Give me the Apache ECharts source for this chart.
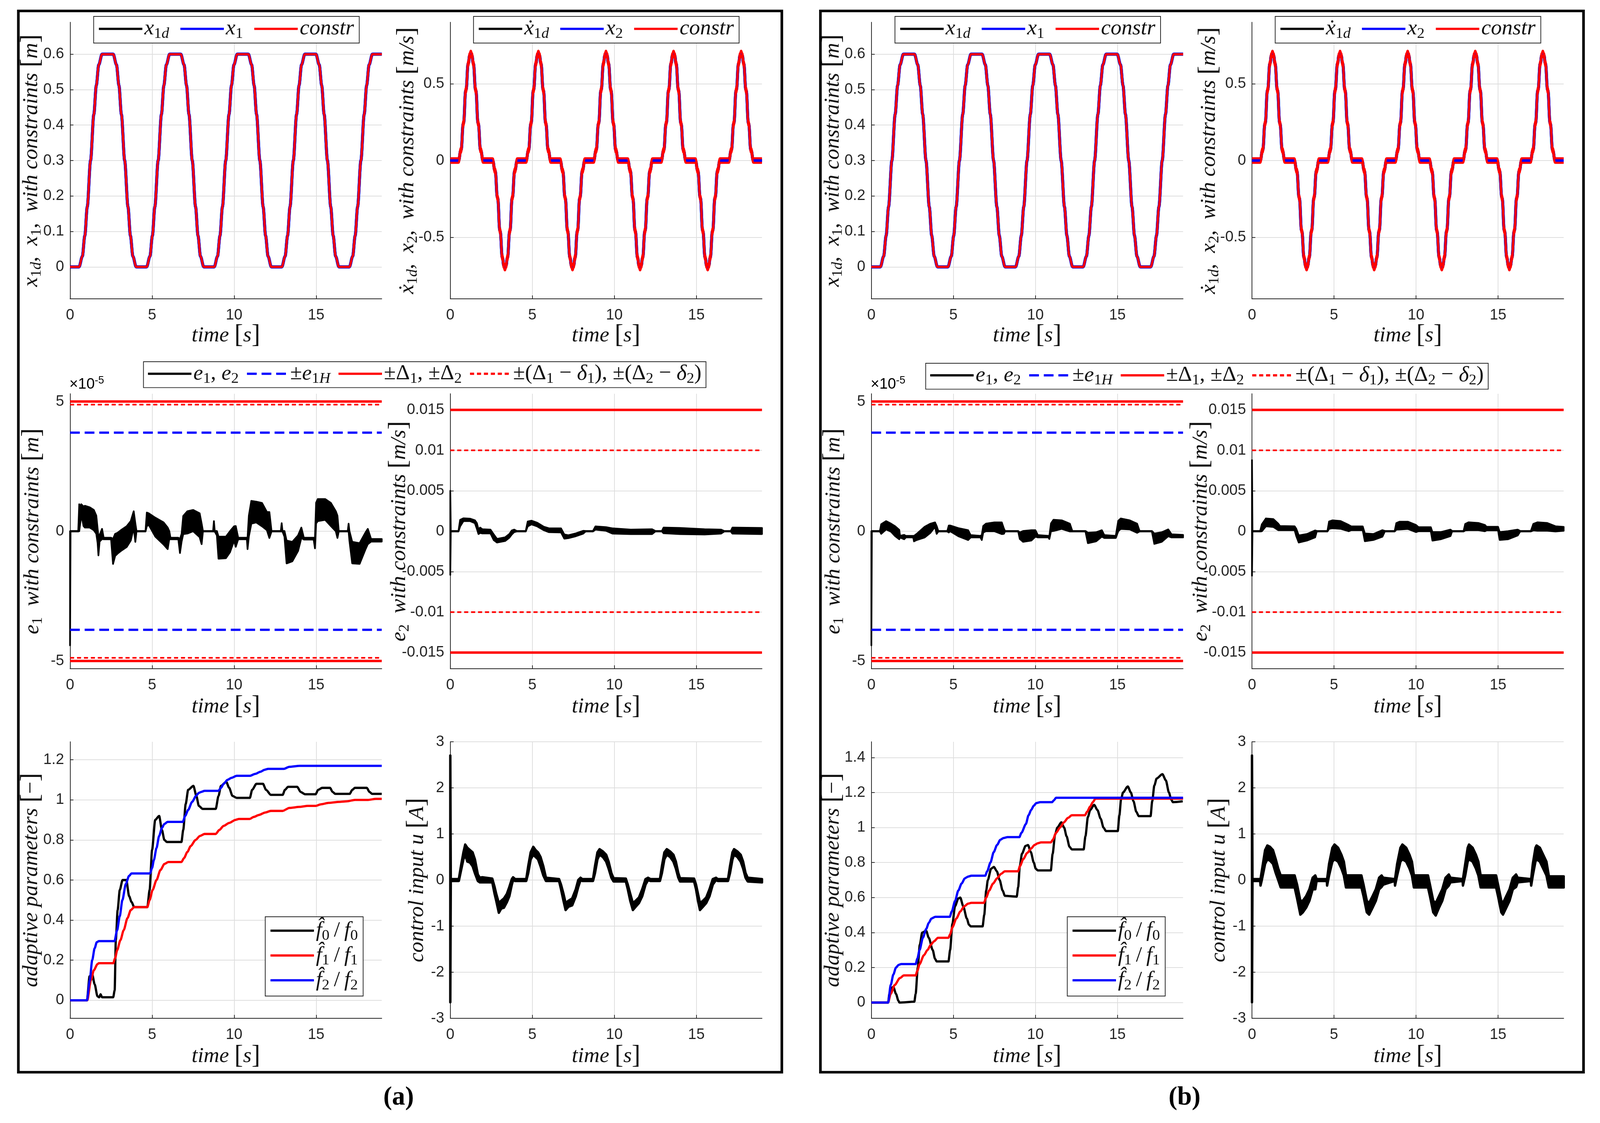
<!DOCTYPE html>
<html lang="en">
<head>
<meta charset="UTF-8">
<title>Constrained tracking results (a) and (b)</title>
<script src="https://cdn.jsdelivr.net/npm/echarts@6/dist/echarts.min.js"></script>
<style>
  html, body { margin: 0; padding: 0; background: #fff; overflow: hidden; }
  #main { width: 4271px; height: 2875px; }
</style>
</head>
<body>
<div id="main"></div>
<script>
// ---------- data ----------
// desired position x1d [m] (tracked x1 sits on top of it), pairs [t, value]
const posX1d = [
  [0,0],[0.55,0],[0.75,0.03],[0.9,0.088],[1.05,0.17],[1.25,0.3],[1.45,0.43],[1.6,0.512],[1.75,0.57],[1.95,0.6],
  [2.63,0.6],[2.83,0.57],[2.98,0.512],[3.13,0.43],[3.33,0.3],[3.53,0.17],[3.68,0.088],[3.83,0.03],[4.03,0],
  [4.67,0],[4.87,0.03],[5.02,0.088],[5.17,0.17],[5.37,0.3],[5.57,0.43],[5.72,0.512],[5.87,0.57],[6.07,0.6],
  [6.75,0.6],[6.95,0.57],[7.1,0.512],[7.25,0.43],[7.45,0.3],[7.65,0.17],[7.8,0.088],[7.95,0.03],[8.15,0],
  [8.79,0],[8.99,0.03],[9.14,0.088],[9.29,0.17],[9.49,0.3],[9.69,0.43],[9.84,0.512],[9.99,0.57],[10.19,0.6],
  [10.87,0.6],[11.07,0.57],[11.22,0.512],[11.37,0.43],[11.57,0.3],[11.77,0.17],[11.92,0.088],[12.07,0.03],[12.27,0],
  [12.91,0],[13.11,0.03],[13.26,0.088],[13.41,0.17],[13.61,0.3],[13.81,0.43],[13.96,0.512],[14.11,0.57],[14.31,0.6],
  [14.99,0.6],[15.19,0.57],[15.34,0.512],[15.49,0.43],[15.69,0.3],[15.89,0.17],[16.04,0.088],[16.19,0.03],[16.39,0],
  [17.03,0],[17.23,0.03],[17.38,0.088],[17.53,0.17],[17.73,0.3],[17.93,0.43],[18.08,0.512],[18.23,0.57],[18.43,0.6],
  [19,0.6]
];
// desired velocity dx1d [m/s] (x2 sits on top of it)
const velX1d = [
  [0,0],[0.5,0],[0.65,0.067],[0.8,0.242],[0.95,0.458],[1.1,0.633],[1.18,0.683],[1.25,0.7],[1.32,0.683],[1.4,0.633],[1.55,0.458],[1.7,0.242],[1.85,0.067],[2.0,0],
  [2.58,0],[2.73,-0.067],[2.88,-0.242],[3.03,-0.458],[3.18,-0.633],[3.26,-0.683],[3.33,-0.7],[3.4,-0.683],[3.48,-0.633],[3.63,-0.458],[3.78,-0.242],[3.93,-0.067],[4.08,0],
  [4.62,0],[4.77,0.067],[4.92,0.242],[5.07,0.458],[5.22,0.633],[5.3,0.683],[5.37,0.7],[5.44,0.683],[5.52,0.633],[5.67,0.458],[5.82,0.242],[5.97,0.067],[6.12,0],
  [6.7,0],[6.85,-0.067],[7.0,-0.242],[7.15,-0.458],[7.3,-0.633],[7.38,-0.683],[7.45,-0.7],[7.52,-0.683],[7.6,-0.633],[7.75,-0.458],[7.9,-0.242],[8.05,-0.067],[8.2,0],
  [8.74,0],[8.89,0.067],[9.04,0.242],[9.19,0.458],[9.34,0.633],[9.42,0.683],[9.49,0.7],[9.56,0.683],[9.64,0.633],[9.79,0.458],[9.94,0.242],[10.09,0.067],[10.24,0],
  [10.82,0],[10.97,-0.067],[11.12,-0.242],[11.27,-0.458],[11.42,-0.633],[11.5,-0.683],[11.57,-0.7],[11.64,-0.683],[11.72,-0.633],[11.87,-0.458],[12.02,-0.242],[12.17,-0.067],[12.32,0],
  [12.86,0],[13.01,0.067],[13.16,0.242],[13.31,0.458],[13.46,0.633],[13.54,0.683],[13.61,0.7],[13.68,0.683],[13.76,0.633],[13.91,0.458],[14.06,0.242],[14.21,0.067],[14.36,0],
  [14.94,0],[15.09,-0.067],[15.24,-0.242],[15.39,-0.458],[15.54,-0.633],[15.62,-0.683],[15.69,-0.7],[15.76,-0.683],[15.84,-0.633],[15.99,-0.458],[16.14,-0.242],[16.29,-0.067],[16.44,0],
  [16.98,0],[17.13,0.067],[17.28,0.242],[17.43,0.458],[17.58,0.633],[17.66,0.683],[17.73,0.7],[17.8,0.683],[17.88,0.633],[18.03,0.458],[18.18,0.242],[18.33,0.067],[18.48,0],
  [19,0]
];

// constraint levels
const DELTA1_M = 0.00005;     // position bound [m]
const DELTA2_MS = 0.015;      // velocity bound [m/s]
const e1Levels = [3.8, 5, 4.88];   // e1H, Delta1, Delta1-delta1   (x 1e-5 m)
const e2Levels = [15, 10];         // Delta2, Delta2-delta2        (x 1e-3 m/s)

// noisy signals as envelopes [t, low, high]
// e1 in 1e-5 m
const e1A = [
  [0,-4.4,0],[0.03,-0.01,0.01],[0.5,-0.01,0.01],[0.56,0.0,1.04],[0.62,0.3,0.9],[0.68,0.55,1.04],[0.75,0.45,1.0],[0.82,0.2,0.95],[0.9,0.14,0.98],[1.2,0.14,0.92],[1.45,0.04,0.82],
  [1.6,-0.1,0.6],[1.68,-0.45,0.1],[1.73,-0.93,-0.2],[1.8,-0.4,-0.15],[1.95,-0.3,0.09],[2.05,-0.31,-0.25],[2.5,-0.31,-0.25],
  [2.62,-1.26,-0.3],[2.75,-0.95,-0.1],[2.9,-0.86,-0.06],[3.1,-0.76,0.04],[3.45,-0.61,0.19],[3.7,-0.36,0.39],[3.88,0.14,0.77],
  [3.98,-0.41,0.3],[4.05,-0.01,0.01],[4.6,-0.01,0.01],[4.68,0.2,0.72],[4.8,0.24,0.69],[5.2,-0.21,0.52],[5.7,-0.51,0.34],
  [5.95,-0.69,0.14],[6.05,-0.3,0.0],[6.12,-0.31,-0.25],[6.6,-0.31,-0.25],[6.7,-0.84,-0.3],[6.8,-0.4,-0.1],[6.9,-0.11,0.59],
  [7.15,-0.09,0.77],[7.5,0.0,0.82],[7.9,-0.23,0.69],[8.02,-0.5,0.3],[8.1,-0.01,0.01],[8.72,-0.01,0.01],[8.77,-0.01,0.39],
  [8.82,-0.01,0.01],[8.95,-0.16,0.01],[9.05,-1.06,-0.21],[9.5,-1.04,-0.21],[9.75,-0.81,0.0],[10.0,-0.36,0.19],[10.1,-0.6,0.2],
  [10.25,-0.31,-0.25],[10.78,-0.31,-0.25],[10.82,-0.69,-0.25],[10.9,-0.2,0.6],[11.05,0.29,1.17],[11.35,0.34,1.14],[11.7,0.19,1.09],
  [12.0,0.04,0.74],[12.15,-0.26,0.74],[12.28,-0.01,0.01],[12.85,-0.01,0.01],[12.9,-0.01,0.31],[12.95,-0.01,0.01],[13.07,-0.21,0.01],
  [13.2,-1.24,-0.36],[13.55,-1.16,-0.41],[13.9,-0.76,-0.16],[14.1,-0.26,0.14],[14.25,-0.32,-0.25],[14.85,-0.32,-0.25],
  [14.93,-0.66,-0.25],[15.0,0.3,1.1],[15.1,0.39,1.24],[15.55,0.44,1.24],[15.9,0.2,1.09],[16.2,0.0,0.77],[16.3,-0.26,0.6],
  [16.38,-0.01,0.01],[16.93,-0.01,0.01],[16.98,-0.01,0.29],[17.03,-0.36,0.01],[17.2,-1.24,-0.41],[17.65,-1.26,-0.46],
  [18.0,-0.71,-0.06],[18.15,-0.5,0.09],[18.35,-0.4,-0.3],[19,-0.4,-0.3]
];
const e1B = [
  [0,-4.4,0],[0.03,-0.01,0.01],[0.52,-0.01,0.01],[0.6,-0.1,0.27],[0.9,0.07,0.39],[1.2,-0.02,0.29],[1.45,-0.19,0.19],[1.7,-0.31,0.05],
  [1.75,-0.24,-0.18],[2.0,-0.31,-0.14],[2.1,-0.24,-0.18],[2.55,-0.24,-0.18],[2.6,-0.39,-0.18],[2.75,-0.34,-0.11],[3.25,-0.24,0.17],
  [3.6,-0.06,0.29],[3.88,0.17,0.34],[3.98,-0.1,0.2],[4.08,-0.01,0.01],[4.63,-0.01,0.01],[4.72,-0.05,0.22],[4.8,0.0,0.22],
  [5.3,-0.19,0.12],[5.9,-0.34,0.04],[6.05,-0.24,-0.15],[6.65,-0.24,-0.18],[6.73,-0.34,-0.15],[6.82,-0.05,0.2],[6.98,0.0,0.29],
  [7.5,0.0,0.34],[7.95,-0.11,0.34],[8.08,-0.1,0.1],[8.15,-0.01,0.01],[8.95,-0.01,0.01],[9.05,-0.3,-0.05],[9.25,-0.41,0.01],
  [9.75,-0.36,0.04],[10.0,-0.21,0.04],[10.15,-0.24,-0.15],[10.8,-0.24,-0.18],[10.85,-0.3,-0.18],[10.95,0.0,0.3],[11.1,0.01,0.44],
  [11.6,0.09,0.42],[12.1,-0.01,0.29],[12.25,-0.01,0.01],[13.05,-0.01,0.01],[13.2,-0.46,-0.06],[13.7,-0.39,-0.04],[14.05,-0.21,0.04],
  [14.2,-0.26,-0.15],[14.9,-0.26,-0.18],[15.05,0.0,0.4],[15.2,0.09,0.49],[15.75,0.07,0.42],[16.2,-0.06,0.29],[16.35,-0.01,0.01],
  [17.1,-0.01,0.01],[17.25,-0.49,-0.09],[17.7,-0.41,-0.04],[18.1,-0.19,0.07],[18.3,-0.24,-0.12],[19,-0.24,-0.14]
];
// e2 in 1e-3 m/s
const e2A = [
  [0,-5.4,5.0],[0.03,-0.03,0.03],[0.5,-0.03,0.03],[0.6,0.6,1.4],[0.8,1.25,1.6],[1.2,1.25,1.55],[1.5,1.0,1.35],[1.62,0.3,1.0],
  [1.72,-0.35,0.2],[1.82,-0.2,0.45],[1.95,-0.27,0.25],[2.45,-0.27,0.2],[2.65,-1.1,-0.4],[2.85,-1.4,-0.95],[3.1,-1.3,-0.85],
  [3.35,-1.2,-0.75],[3.6,-0.8,-0.35],[3.75,-0.4,0.1],[3.9,-0.1,0.2],[4.05,-0.03,0.03],[4.6,-0.03,0.03],[4.72,0.6,1.2],
  [4.95,0.85,1.3],[5.3,0.6,1.05],[5.7,0.13,0.55],[6.0,-0.11,0.37],[6.75,-0.15,0.35],[6.95,-0.92,-0.4],[7.2,-0.85,-0.5],
  [7.6,-0.65,-0.3],[8.1,-0.3,0.05],[8.25,-0.03,0.03],[8.7,-0.03,0.03],[8.85,0.2,0.6],[9.5,0.05,0.5],[9.9,-0.3,0.35],
  [11.0,-0.35,0.2],[12.3,-0.35,0.25],[12.5,-0.03,0.03],[12.9,-0.03,0.03],[13.0,-0.25,0.45],[14.0,-0.35,0.4],[15.5,-0.4,0.25],
  [16.5,-0.3,0.2],[16.7,-0.03,0.03],[17.1,-0.03,0.03],[17.2,-0.3,0.45],[19,-0.35,0.4]
];
const e2B = [
  [0,-5.5,8.8],[0.03,-0.03,0.03],[0.5,-0.03,0.03],[0.6,0.0,0.85],[0.85,0.61,1.58],[1.3,0.53,1.5],[1.6,0.13,0.94],[1.7,0.13,0.65],
  [2.6,0.13,0.61],[2.7,-0.6,0.3],[2.85,-1.4,-0.52],[3.35,-1.16,-0.35],[3.85,-0.76,0.1],[3.95,-0.03,0.03],[4.6,-0.03,0.03],
  [4.7,0.3,1.2],[4.9,0.37,1.34],[5.4,0.3,1.26],[5.9,0.0,0.77],[6.05,0.13,0.6],[6.75,0.13,0.6],[6.88,-1.24,-0.27],[7.4,-1.08,-0.35],
  [7.95,-0.68,0.13],[8.1,-0.03,0.03],[8.7,-0.03,0.03],[8.8,0.2,1.0],[9.0,0.21,1.18],[9.5,0.29,1.18],[10.0,-0.11,0.77],
  [10.15,0.0,0.5],[10.9,0.0,0.5],[11.0,-1.16,-0.11],[11.5,-1.0,-0.11],[12.1,-0.6,0.2],[12.2,-0.03,0.03],[12.9,-0.03,0.03],
  [13.0,0.1,0.9],[13.2,0.13,1.1],[13.8,0.13,1.02],[14.2,0.0,0.77],[14.3,0.1,0.55],[15.0,0.1,0.55],[15.1,-1.08,-0.1],
  [15.6,-1.0,0.0],[16.2,-0.52,0.2],[16.35,-0.03,0.03],[17.0,-0.03,0.03],[17.15,0.1,0.9],[17.4,0.05,1.1],[18.0,0.05,1.02],
  [18.5,-0.03,0.61],[19,0.05,0.53]
];
// control input u [A]
const uA = [
  [0,-2.65,2.7],[0.03,-0.02,0.02],[0.52,-0.02,0.02],[0.65,0.2,0.3],[0.8,0.45,0.6],[0.91,0.55,0.77],[1.04,0.4,0.7],[1.2,0.38,0.65],
  [1.36,0.3,0.6],[1.5,0.15,0.45],[1.68,-0.02,0.12],[1.8,-0.05,0.05],[1.95,-0.05,0.06],[2.56,-0.05,0.03],[2.7,-0.3,-0.15],
  [2.8,-0.45,-0.3],[2.96,-0.71,-0.5],[3.1,-0.62,-0.45],[3.27,-0.6,-0.4],[3.45,-0.48,-0.3],[3.6,-0.35,-0.15],[3.75,-0.1,0.02],
  [3.83,0.0,0.06],[3.95,-0.02,0.02],[4.63,-0.02,0.02],[4.75,0.15,0.3],[4.9,0.45,0.6],[5.06,0.55,0.72],[5.2,0.5,0.65],
  [5.35,0.45,0.6],[5.5,0.3,0.5],[5.67,0.1,0.3],[5.83,-0.02,0.05],[6.63,-0.02,0.02],[6.75,-0.2,-0.1],[6.9,-0.45,-0.3],
  [7.03,-0.65,-0.5],[7.2,-0.58,-0.45],[7.43,-0.55,-0.4],[7.65,-0.35,-0.2],[7.8,-0.15,0.0],[7.94,0.0,0.05],[8.05,-0.02,0.02],
  [8.7,-0.02,0.02],[8.82,0.15,0.3],[8.97,0.45,0.6],[9.1,0.55,0.67],[9.3,0.5,0.62],[9.5,0.4,0.55],[9.65,0.25,0.4],[9.82,0.05,0.15],
  [9.95,-0.03,0.04],[10.7,-0.03,0.03],[10.82,-0.2,-0.1],[10.97,-0.45,-0.3],[11.13,-0.65,-0.5],[11.3,-0.58,-0.45],[11.5,-0.5,-0.38],
  [11.7,-0.35,-0.2],[11.9,-0.1,0.02],[12.06,0.0,0.05],[12.2,-0.02,0.02],[12.78,-0.02,0.02],[12.9,0.15,0.3],[13.05,0.45,0.6],
  [13.2,0.55,0.67],[13.4,0.5,0.62],[13.6,0.4,0.55],[13.75,0.25,0.4],[13.9,0.05,0.15],[14.0,-0.03,0.04],[14.86,-0.03,0.03],
  [14.98,-0.2,-0.1],[15.1,-0.45,-0.3],[15.22,-0.65,-0.5],[15.4,-0.58,-0.45],[15.6,-0.5,-0.38],[15.8,-0.35,-0.2],[16.0,-0.1,0.02],
  [16.2,0.0,0.05],[16.3,-0.02,0.02],[16.93,-0.02,0.02],[17.05,0.15,0.3],[17.2,0.45,0.6],[17.3,0.55,0.67],[17.5,0.5,0.62],
  [17.7,0.4,0.55],[17.85,0.25,0.4],[18.0,0.05,0.15],[18.13,-0.03,0.05],[19,-0.05,0.02]
];
const uB = [
  [0,-2.65,2.7],[0.03,-0.02,0.02],[0.5,-0.02,0.02],[0.52,-0.12,0.02],[0.6,0.0,0.2],[0.8,0.35,0.65],[0.94,0.45,0.75],[1.1,0.42,0.72],
  [1.28,0.35,0.65],[1.45,0.15,0.45],[1.6,0.0,0.25],[1.75,-0.16,0.1],[2.6,-0.16,0.1],[2.75,-0.4,-0.1],[2.95,-0.75,-0.45],
  [3.1,-0.7,-0.45],[3.3,-0.6,-0.35],[3.5,-0.45,-0.2],[3.7,-0.2,0.05],[3.86,-0.2,0.1],[3.94,-0.02,0.02],[4.56,-0.02,0.02],
  [4.58,-0.12,0.02],[4.7,0.1,0.35],[4.9,0.4,0.7],[5.03,0.45,0.77],[5.25,0.4,0.7],[5.45,0.25,0.55],[5.6,0.1,0.4],[5.73,-0.16,0.1],
  [6.67,-0.16,0.1],[6.8,-0.35,-0.1],[7.0,-0.7,-0.45],[7.14,-0.75,-0.5],[7.35,-0.6,-0.35],[7.55,-0.45,-0.2],[7.75,-0.2,0.05],
  [7.9,-0.15,0.1],[8.0,-0.1,0.05],[8.7,-0.02,0.02],[8.72,-0.12,0.02],[8.85,0.1,0.35],[9.05,0.4,0.7],[9.17,0.45,0.77],[9.4,0.4,0.7],
  [9.6,0.25,0.55],[9.75,0.1,0.4],[9.87,-0.16,0.1],[10.73,-0.16,0.1],[10.85,-0.35,-0.1],[11.05,-0.7,-0.45],[11.2,-0.77,-0.5],
  [11.4,-0.6,-0.35],[11.6,-0.45,-0.2],[11.8,-0.2,0.05],[12.0,-0.12,0.12],[12.1,-0.05,0.05],[12.84,-0.02,0.02],[12.86,-0.12,0.02],
  [13.0,0.1,0.35],[13.15,0.4,0.7],[13.23,0.45,0.77],[13.45,0.4,0.7],[13.65,0.25,0.55],[13.8,0.1,0.4],[13.94,-0.16,0.1],
  [14.88,-0.16,0.1],[15.0,-0.35,-0.1],[15.2,-0.7,-0.45],[15.3,-0.75,-0.5],[15.5,-0.6,-0.35],[15.7,-0.45,-0.2],[15.9,-0.2,0.05],
  [16.1,-0.15,0.12],[16.2,-0.05,0.05],[17.0,-0.02,0.02],[17.02,-0.12,0.02],[17.12,0.1,0.35],[17.28,0.4,0.7],[17.35,0.45,0.75],
  [17.55,0.4,0.7],[17.75,0.25,0.55],[17.95,0.1,0.4],[18.1,-0.16,0.08],[19,-0.16,0.08]
];

// adaptive parameter ratios [t, value]
const f0A = [[0,0],[1.03,0],[1.19,0.12],[1.35,0.13],[1.5,0.08],[1.67,0.02],[1.78,0.015],[1.86,0.03],[1.95,0.015],[2.63,0.015],[2.72,0.05],[2.79,0.3],[2.9,0.45],[3.03,0.55],[3.2,0.6],[3.43,0.6],[3.6,0.52],[3.75,0.49],[3.91,0.465],[4.71,0.465],[4.85,0.55],[5.0,0.75],[5.19,0.9],[5.43,0.92],[5.6,0.85],[5.75,0.8],[5.9,0.79],[6.79,0.79],[6.9,0.85],[7.05,0.98],[7.2,1.05],[7.52,1.07],[7.7,1.02],[7.85,0.97],[8.08,0.955],[8.88,0.955],[9.05,1.02],[9.2,1.07],[9.52,1.09],[9.7,1.06],[9.9,1.02],[10.16,1.01],[10.96,1.01],[11.1,1.05],[11.36,1.08],[11.76,1.08],[11.95,1.05],[12.24,1.025],[12.96,1.025],[13.1,1.05],[13.29,1.065],[13.85,1.065],[14.05,1.04],[14.33,1.028],[14.97,1.028],[15.12,1.05],[15.37,1.06],[15.85,1.06],[16.0,1.04],[16.17,1.03],[17.05,1.03],[17.2,1.05],[17.37,1.06],[18.09,1.06],[18.25,1.04],[18.41,1.03],[19,1.03]];
const f1A = [[0,0],[1.05,0],[1.27,0.1],[1.45,0.15],[1.67,0.18],[1.75,0.185],[2.63,0.185],[2.75,0.21],[2.87,0.25],[3.07,0.3],[3.27,0.35],[3.5,0.41],[3.7,0.45],[3.91,0.465],[4.71,0.465],[4.85,0.5],[5.03,0.55],[5.27,0.6],[5.51,0.65],[5.75,0.68],[5.99,0.69],[6.79,0.69],[6.95,0.71],[7.15,0.74],[7.36,0.77],[7.65,0.8],[7.92,0.82],[8.2,0.83],[8.88,0.83],[9.1,0.85],[9.36,0.87],[9.7,0.885],[10.08,0.9],[10.3,0.905],[10.96,0.905],[11.2,0.915],[11.52,0.925],[11.9,0.937],[12.24,0.945],[12.96,0.945],[13.37,0.96],[14.0,0.965],[14.49,0.97],[14.97,0.97],[15.3,0.978],[15.77,0.985],[16.41,0.99],[16.9,0.993],[17.37,1.0],[18.17,1.0],[18.65,1.005],[19,1.005]];
const f2A = [[0,0],[1.03,0],[1.2,0.1],[1.35,0.2],[1.5,0.26],[1.63,0.29],[1.75,0.295],[2.71,0.295],[2.87,0.35],[3.03,0.42],[3.19,0.5],[3.4,0.58],[3.59,0.62],[3.75,0.633],[4.87,0.633],[5.0,0.66],[5.11,0.7],[5.27,0.76],[5.43,0.82],[5.6,0.86],[5.75,0.88],[5.95,0.89],[6.87,0.89],[7.02,0.92],[7.2,0.95],[7.44,0.99],[7.68,1.02],[7.85,1.035],[8.0,1.04],[8.2,1.045],[9.04,1.045],[9.2,1.06],[9.36,1.08],[9.6,1.1],[9.84,1.11],[10.16,1.12],[10.96,1.12],[11.3,1.13],[11.6,1.14],[11.85,1.15],[12.08,1.155],[13.04,1.155],[13.37,1.165],[14.0,1.17],[19,1.17]];
const f0B = [[0,0],[1.02,0],[1.1,0.05],[1.18,0.08],[1.34,0.09],[1.5,0.05],[1.65,0.01],[1.71,0],[2.62,0.005],[2.7,0.05],[2.83,0.2],[2.95,0.33],[3.1,0.4],[3.34,0.41],[3.5,0.37],[3.74,0.3],[3.88,0.25],[3.98,0.235],[4.7,0.235],[4.8,0.3],[4.94,0.45],[5.1,0.55],[5.3,0.595],[5.42,0.6],[5.6,0.55],[5.82,0.48],[5.95,0.445],[6.06,0.435],[6.78,0.435],[6.88,0.5],[7.0,0.64],[7.1,0.7],[7.3,0.765],[7.47,0.775],[7.65,0.75],[7.82,0.7],[8.0,0.64],[8.14,0.61],[8.86,0.605],[8.95,0.66],[9.05,0.78],[9.18,0.85],[9.4,0.895],[9.55,0.9],[9.72,0.86],[9.9,0.8],[10.02,0.765],[10.14,0.755],[10.94,0.755],[11.05,0.85],[11.2,0.96],[11.34,1.0],[11.58,1.03],[11.75,1.0],[11.9,0.95],[12.08,0.89],[12.22,0.875],[12.94,0.875],[13.05,0.95],[13.2,1.06],[13.34,1.1],[13.58,1.13],[13.78,1.1],[13.98,1.05],[14.15,1.0],[14.3,0.98],[15.02,0.98],[15.12,1.07],[15.22,1.16],[15.34,1.2],[15.63,1.235],[15.82,1.2],[15.98,1.15],[16.15,1.09],[16.3,1.065],[17.02,1.065],[17.12,1.15],[17.25,1.24],[17.39,1.28],[17.74,1.305],[17.95,1.27],[18.14,1.2],[18.28,1.16],[18.38,1.145],[18.98,1.15]];
const f1B = [[0,0],[1.02,0],[1.18,0.05],[1.42,0.1],[1.74,0.14],[1.98,0.155],[2.7,0.155],[2.8,0.18],[2.94,0.22],[3.2,0.27],[3.42,0.3],[3.62,0.33],[3.82,0.35],[4.06,0.37],[4.7,0.37],[4.8,0.39],[4.94,0.43],[5.18,0.48],[5.42,0.52],[5.66,0.55],[5.9,0.565],[6.1,0.57],[6.86,0.57],[7.0,0.6],[7.18,0.64],[7.42,0.68],[7.66,0.71],[7.9,0.735],[8.14,0.75],[8.94,0.75],[9.06,0.78],[9.26,0.82],[9.5,0.855],[9.74,0.88],[9.94,0.9],[10.14,0.91],[10.35,0.915],[10.94,0.915],[11.06,0.93],[11.26,0.97],[11.5,1.0],[11.74,1.03],[11.98,1.055],[12.22,1.07],[13.02,1.07],[13.15,1.09],[13.34,1.12],[13.5,1.145],[13.66,1.165],[19,1.165]];
const f2B = [[0,0],[1.02,0],[1.18,0.1],[1.34,0.16],[1.5,0.2],[1.66,0.215],[1.82,0.22],[2.7,0.22],[2.8,0.25],[2.94,0.3],[3.14,0.37],[3.34,0.42],[3.5,0.455],[3.66,0.48],[3.9,0.49],[4.78,0.49],[4.9,0.52],[5.1,0.58],[5.3,0.64],[5.5,0.68],[5.7,0.71],[5.9,0.72],[6.1,0.725],[6.94,0.725],[7.06,0.75],[7.26,0.8],[7.46,0.86],[7.66,0.9],[7.86,0.93],[8.06,0.94],[8.3,0.945],[9.02,0.945],[9.15,0.97],[9.42,1.02],[9.58,1.07],[9.74,1.1],[9.9,1.125],[10.06,1.14],[10.3,1.145],[11.02,1.145],[11.12,1.155],[11.26,1.17],[19,1.17]];

// tick labels
const timeTicks = [0, 5, 10, 15];
const posTicks = [0, 0.1, 0.2, 0.3, 0.4, 0.5, 0.6];
const velTicks = [-0.5, 0, 0.5];
const e1Ticks = [-5, 0, 5];
const e2Ticks = [-15, -10, -5, 0, 5, 10, 15];
const adaTicksA = [0, 0.2, 0.4, 0.6, 0.8, 1, 1.2];
const adaTicksB = [0, 0.2, 0.4, 0.6, 0.8, 1, 1.2, 1.4];
const uTicks = [-3, -2, -1, 0, 1, 2, 3];

// ---------- page size: layout is given for 4271 x 2875 and scaled to the real viewport ----------
const VW = window.innerWidth || 4271, VH = window.innerHeight || 2875;
const SX = VW / 4271, SY = VH / 2875, SF = Math.min(SX, SY);
const X = v => v * SX, Y = v => v * SY, F = v => v * SF;
const box = document.getElementById('main');
box.style.width = VW + 'px';
box.style.height = VH + 'px';

// ---------- styling ----------
const SERIF = '"Liberation Serif", "DejaVu Serif", serif';
const SANS = '"Liberation Sans", Arial, sans-serif';
const AX = '#262626';
const GRIDC = '#dedede';
const BLACK = '#000000', BLUE = '#0000ff', RED = '#ff0000';
const TICK_FS = F(40);

function richSet(size) {
    return {
        i: {fontFamily: SERIF, fontStyle: 'italic', fontSize: F(size), lineHeight: F(68), color: '#111'},
        r: {fontFamily: SERIF, fontSize: F(size), lineHeight: F(68), color: '#111'},
        br: {fontFamily: SERIF, fontSize: F(size * 1.2), lineHeight: F(68), color: '#111'},
        sub: {fontFamily: SERIF, fontSize: F(size * 0.7), lineHeight: F(36), verticalAlign: 'bottom', color: '#111'},
        subi: {fontFamily: SERIF, fontStyle: 'italic', fontSize: F(size * 0.7), lineHeight: F(36), verticalAlign: 'bottom', color: '#111'}
    };
}
const RICH = richSet(58);
const RICH_LEG = richSet(58);

const LABELS = {
    x1d: '{i|x}{sub|1}{subi|d}',
    x1: '{i|x}{sub|1}',
    constr: '{i|constr}',
    dx1d: '{i|ẋ}{sub|1}{subi|d}',
    x2: '{i|x}{sub|2}',
    e12: '{i|e}{sub|1}{r|, }{i|e}{sub|2}',
    e1H: '{r|±}{i|e}{sub|1}{subi|H}',
    D: '{r|±Δ}{sub|1}{r|, ±Δ}{sub|2}',
    Dd: '{r|±(Δ}{sub|1}{r| − }{i|δ}{sub|1}{r|), ±(Δ}{sub|2}{r| − }{i|δ}{sub|2}{r|)}',
    f0: '{i|f\u0302}{sub|0}{r|\u2009/\u2009}{i|f}{sub|0}',
    f1: '{i|f\u0302}{sub|1}{r|\u2009/\u2009}{i|f}{sub|1}',
    f2: '{i|f\u0302}{sub|2}{r|\u2009/\u2009}{i|f}{sub|2}'
};
const COLOR = {x1d: BLACK, x1: BLUE, constr: RED, dx1d: BLACK, x2: BLUE, e12: BLACK, e1H: BLUE, D: RED, Dd: RED, f0: BLACK, f1: RED, f2: BLUE};
const ICON = {
    e1H: 'path://M0,0h26v6h-26z M39,0h26v6h-26z M78,0h26v6h-26z',
    Dd: 'path://M0,0h11v6h-11z M18.5,0h11v6h-11z M37,0h11v6h-11z M55.5,0h11v6h-11z M74,0h11v6h-11z M92.5,0h11v6h-11z'
};

const NAMES = {
    time: '{i|time }{br|[}{i|s}{br|]}',
    g1: '{i|x}{sub|1}{subi|d}{r|,  }{i|x}{sub|1}{r|,  }{i|with constraints }{br|[}{i|m}{br|]}',
    g2: '{i|ẋ}{sub|1}{subi|d}{r|,  }{i|x}{sub|2}{r|,  }{i|with constraints }{br|[}{i|m/s}{br|]}',
    g3: '{i|e}{sub|1}{i|  with constraints }{br|[}{i|m}{br|]}',
    g4: '{i|e}{sub|2}{i|  with constraints }{br|[}{i|m/s}{br|]}',
    g5: '{i|adaptive parameters }{br|[}{r|−}{br|]}',
    g6: '{i|control input u }{br|[}{i|A}{br|]}'
};

// ---------- layout (reference pixels) ----------
const cols = [187, 1202, 2326, 3342];
const rows = [[57, 708], [1008, 704], [1899, 708]];
const PLOT_W = 832;

function xAx(idx, gap) {
    return {
        type: 'value', gridIndex: idx, min: 0, max: 19,
        name: NAMES.time, nameLocation: 'middle', nameGap: Y(gap), nameMoveOverlap: false,
        nameTextStyle: {rich: RICH},
        axisLine: {show: true, onZero: false, lineStyle: {color: AX, width: F(2)}},
        axisTick: {show: true, inside: true, length: F(9), customValues: timeTicks, lineStyle: {color: AX, width: F(2)}},
        axisLabel: {customValues: timeTicks, fontFamily: SANS, fontSize: TICK_FS, color: AX, margin: Y(23)},
        splitLine: {show: true, lineStyle: {color: GRIDC, width: F(2)}}
    };
}
function yAx(idx, min, max, ticks, name, gap, fmt) {
    let label = {customValues: ticks, fontFamily: SANS, fontSize: TICK_FS, color: AX, margin: X(16)};
    if (fmt) label.formatter = fmt;
    return {
        type: 'value', gridIndex: idx, min: min, max: max,
        name: name, nameLocation: 'middle', nameGap: X(gap), nameMoveOverlap: false,
        nameTextStyle: {rich: RICH},
        axisLine: {show: true, onZero: false, lineStyle: {color: AX, width: F(2)}},
        axisTick: {show: true, inside: true, length: F(9), customValues: ticks, lineStyle: {color: AX, width: F(2)}},
        axisLabel: label,
        splitLine: {show: true, lineStyle: {color: GRIDC, width: F(2)}}
    };
}
function line(name, data, idx, color, width, dash, smooth) {
    return {
        name: name, type: 'line', xAxisIndex: idx, yAxisIndex: idx, data: data,
        symbol: 'none', showSymbol: false, smooth: smooth || false, smoothMonotone: 'x',
        color: color, lineStyle: {color: color, width: F(width), type: dash ? dash.map(F) : 'solid', cap: 'butt'},
        silent: true
    };
}
function hline(name, level, idx, color, width, dash) {
    return line(name, [[0, level], [19, level]], idx, color, width, dash);
}
// dense noisy signal drawn as the band between its low and high envelope
function band(name, env, idx, width) {
    return {
        name: name, type: 'custom', xAxisIndex: idx, yAxisIndex: idx,
        data: [[env[0][0], env[0][1]]], itemStyle: {color: BLACK}, silent: true,
        renderItem: function (params, api) {
            let upper = env.map(p => api.coord([p[0], p[2]]));
            let lower = env.slice().reverse().map(p => api.coord([p[0], p[1]]));
            return {
                type: 'polygon', shape: {points: upper.concat(lower)},
                style: {fill: BLACK, stroke: BLACK, lineWidth: F(width), lineJoin: 'round'}
            };
        }
    };
}
function legend(left, top, names, extra) {
    return Object.assign({
        left: X(left), top: Y(top), orient: 'horizontal',
        padding: [F(4), F(14), F(4), F(14)], itemGap: F(30), itemWidth: F(116), itemHeight: F(6),
        borderColor: AX, borderWidth: F(2), backgroundColor: '#ffffff',
        selectedMode: false,
        data: names.map(n => ({name: n, icon: ICON[n] || 'rect', itemStyle: {color: COLOR[n], borderWidth: 0}})),
        formatter: n => LABELS[n],
        textStyle: {rich: RICH_LEG, fontFamily: SERIF, fontSize: F(58)}
    }, extra || {});
}

let grids = [], xAxes = [], yAxes = [], series = [], legends = [], graphics = [];
for (let p = 0; p < 2; p++) {
    for (let r = 0; r < 3; r++) {
        for (let c = 0; c < 2; c++) {
            let idx = grids.length;
            grids.push({left: X(cols[p * 2 + c]), top: Y(rows[r][0]), width: X(PLOT_W), height: Y(rows[r][1]),
                        outerBoundsMode: 'none', containLabel: false});
            xAxes.push(xAx(idx, r === 0 ? 62 : 65));
        }
    }
}

function addPanel(p, e1, e2, f0, f1, f2, u, adaMax, adaTicks) {
    const g = p * 6;
    yAxes.push(
        yAx(g, -0.09, 0.69, posTicks, NAMES.g1, 69),
        yAx(g + 1, -0.9, 0.9, velTicks, NAMES.g2, 80),
        yAx(g + 2, -5.3, 5.3, e1Ticks, NAMES.g3, 66),
        yAx(g + 3, -17, 17, e2Ticks, NAMES.g4, 102, v => String(v / 1000)),
        yAx(g + 4, -0.09, adaMax, adaTicks, NAMES.g5, 69),
        yAx(g + 5, -3, 3, uTicks, NAMES.g6, 54)
    );
    // position tracking
    series.push(
        line('x1d', posX1d, g, BLACK, 8, null, 0.3),
        line('x1', posX1d, g, BLUE, 8, null, 0.3),
        line('constr', posX1d.map(q => [q[0], q[1] + DELTA1_M]), g, RED, 5.5, null, 0.3),
        line('constr', posX1d.map(q => [q[0], q[1] - DELTA1_M]), g, RED, 5.5, null, 0.3)
    );
    // velocity tracking
    series.push(
        line('dx1d', velX1d, g + 1, BLACK, 8, null, 0.5),
        line('x2', velX1d, g + 1, BLUE, 8, null, 0.5),
        line('constr', velX1d.map(q => [q[0], q[1] + DELTA2_MS]), g + 1, RED, 5.5, null, 0.5),
        line('constr', velX1d.map(q => [q[0], q[1] - DELTA2_MS]), g + 1, RED, 5.5, null, 0.5)
    );
    // e1 with constraints
    series.push(
        band('e12', e1, g + 2, 4.5),
        hline('e1H', e1Levels[0], g + 2, BLUE, 6, [26, 13]),
        hline('e1H', -e1Levels[0], g + 2, BLUE, 6, [26, 13]),
        hline('D', e1Levels[1], g + 2, RED, 6.5),
        hline('D', -e1Levels[1], g + 2, RED, 6.5),
        hline('Dd', e1Levels[2], g + 2, RED, 4.5, [11, 7.5]),
        hline('Dd', -e1Levels[2], g + 2, RED, 4.5, [11, 7.5])
    );
    // e2 with constraints
    series.push(
        band('e12', e2, g + 3, 4.5),
        hline('D', e2Levels[0], g + 3, RED, 6.5),
        hline('D', -e2Levels[0], g + 3, RED, 6.5),
        hline('Dd', e2Levels[1], g + 3, RED, 4.5, [11, 7.5]),
        hline('Dd', -e2Levels[1], g + 3, RED, 4.5, [11, 7.5])
    );
    // adaptive parameters
    series.push(
        line('f0', f0, g + 4, BLACK, 6, null, 0.25),
        line('f1', f1, g + 4, RED, 6, null, 0.25),
        line('f2', f2, g + 4, BLUE, 6, null, 0.25)
    );
    // control input
    series.push(band('u', u, g + 5, 6.5));
}
addPanel(0, e1A, e2A, f0A, f1A, f2A, uA, 1.29, adaTicksA);
addPanel(1, e1B, e2B, f0B, f1B, f2B, uB, 1.49, adaTicksB);

const midLegend = {itemGap: F(22), padding: [F(3), F(12), F(3), F(12)]};
const lowLegend = {orient: 'vertical', itemGap: F(3), padding: [F(8), F(14), F(8), F(14)]};
legends.push(
    legend(250, 42, ['x1d', 'x1', 'constr']),
    legend(1264, 42, ['dx1d', 'x2', 'constr']),
    legend(383, 926, ['e12', 'e1H', 'D', 'Dd'], midLegend),
    legend(708, 2347, ['f0', 'f1', 'f2'], lowLegend),
    legend(2389, 42, ['x1d', 'x1', 'constr']),
    legend(3404, 42, ['dx1d', 'x2', 'constr']),
    legend(2471, 930, ['e12', 'e1H', 'D', 'Dd'], midLegend),
    legend(2849, 2347, ['f0', 'f1', 'f2'], lowLegend)
);

// panel frames, sub-figure captions and the exponent labels
const frames = [[49, 28, 2038, 2717], [2190, 28, 2037, 2717]];
const captions = [['(a)', 1064], ['(b)', 3162]];
frames.forEach(function (f, k) {
    graphics.push({
        type: 'rect', silent: true, z: 100,
        shape: {x: X(f[0]), y: Y(f[1]), width: X(f[2]), height: Y(f[3])},
        style: {fill: 'none', stroke: '#000', lineWidth: F(7)}
    });
    graphics.push({
        type: 'text', silent: true, x: X(captions[k][1]), y: Y(2811),
        style: {text: captions[k][0], font: 'bold ' + F(70) + 'px ' + SERIF, fill: '#000', align: 'center', verticalAlign: 'middle'}
    });
    graphics.push({
        type: 'text', silent: true, x: X(cols[k * 2] - 2), y: Y(984),
        style: {
            text: '{a|×10}{b|-5}', align: 'left', verticalAlign: 'middle',
            rich: {
                a: {fontFamily: SANS, fontSize: F(40), color: AX, lineHeight: F(48)},
                b: {fontFamily: SANS, fontSize: F(28), color: AX, lineHeight: F(28), verticalAlign: 'top'}
            }
        }
    });
});

let myChart = echarts.init(box, null, {renderer: 'canvas', width: VW, height: VH});
let option = {
    animation: false,
    backgroundColor: '#ffffff',
    textStyle: {fontFamily: SANS},
    grid: grids,
    xAxis: xAxes,
    yAxis: yAxes,
    legend: legends,
    graphic: graphics,
    series: series
};
myChart.setOption(option);
</script>
</body>
</html>
